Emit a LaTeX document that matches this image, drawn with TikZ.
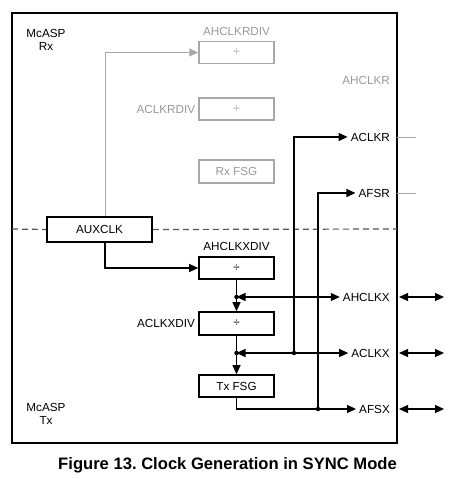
\documentclass[tikz,border=0pt]{standalone}
\usepackage{fontspec}
\setmainfont{Liberation Sans}
\usetikzlibrary{arrows.meta,calc,positioning}
\definecolor{gtext}{HTML}{9A9A9A}
\definecolor{gline}{HTML}{A8A8A8}
\definecolor{dashc}{HTML}{555555}
\frenchspacing
\begin{document}
\begin{tikzpicture}[x=1pt,y=-1pt,
  lbl/.style={font=\fontsize{11.7}{13}\selectfont, inner sep=0pt},
  glbl/.style={lbl, text=gtext},
  blackbox/.style={draw=black, line width=1.6pt, minimum width=75pt, minimum height=22pt, inner sep=0pt, font=\fontsize{11.7}{13}\selectfont},
  graybox/.style={draw=gline, line width=1.4pt, minimum width=75pt, minimum height=22pt, inner sep=0pt, text=gtext, font=\fontsize{11.7}{13}\selectfont},
  pin/.style={lbl, anchor=east, inner xsep=3pt},
  conn/.style={line width=1.1pt, draw=black},
  gconn/.style={line width=1pt, draw=gline},
  tip/.style={-{Triangle[length=9pt,width=8pt]}},
  bitip/.style={{Triangle[length=9pt,width=8pt]}-{Triangle[length=9pt,width=8pt]}},
  dot/.style={circle, fill=black, inner sep=0pt, minimum size=4.5pt}
]
\useasboundingbox (0,0) rectangle (465,479);
% frame
\draw[line width=1.8pt] (12,13) rectangle (397,443);
% texts
\node[lbl, align=center] (mrx) at (46,39.5) {McASP\\Rx};
\node[lbl, align=center] (mtx) at (46,414) {McASP\\Tx};
% AUXCLK
\node[blackbox, minimum width=105pt, minimum height=25pt] (aux) at (99.5,229.5) {AUXCLK};
\draw[dashc, line width=1.2pt, dash pattern=on 6pt off 4pt] (12,229) -- (aux.west);
\draw[dashc, line width=1.2pt, dash pattern=on 6pt off 4pt] (aux.east) -- (397,229);
% Rx boxes
\node[graybox] (ahr) at (236.5,52.5) {÷};
\node[glbl, above=5pt of ahr] (lahr) {AHCLKRDIV};
\node[graybox] (acr) at (236.5,109) {÷};
\node[glbl, left=3pt of acr] (lacr) {ACLKRDIV};
\node[graybox, minimum height=23pt] (rfsg) at (236.5,171.5) {Rx FSG};
% Tx boxes
\node[blackbox] (ahx) at (236.5,268) {÷};
\node[lbl, above=5pt of ahx] (lahx) {AHCLKXDIV};
\node[blackbox, minimum height=23pt] (acx) at (236.5,323.5) {÷};
\node[lbl, left=3pt of acx] (lacx) {ACLKXDIV};
\node[blackbox] (tfsg) at (236.5,386) {Tx FSG};
% pin labels
\node[glbl, anchor=east] (pahr) at (390,80) {AHCLKR};
\node[pin] (pacr) at (393,137) {ACLKR};
\node[pin] (pafr) at (393,193) {AFSR};
\node[pin] (pahx) at (393,297) {AHCLKX};
\node[pin] (pacx) at (393,353) {ACLKX};
\node[pin] (pafx) at (393,409) {AFSX};
% junctions
\coordinate (jah) at (236.5,297);
\coordinate (jac) at (236.5,353);
\coordinate (jclk) at (294,353);
\coordinate (jfs) at (318,409);
% AUXCLK connections
\draw[gconn, -{Triangle[length=9pt,width=8pt]}, gline] ([xshift=5.5pt]aux.north) |- (ahr.west);
\draw[conn, tip] ([xshift=5.5pt]aux.south) |- (ahx.west);
% Tx chain
\draw[conn, tip] (ahx.south) -- (acx.north);
\draw[conn, tip] (acx.south) -- (tfsg.north);
\draw[conn, tip] (tfsg.south) |- (pafx.west);
\draw[conn, bitip] (jah) -- (pahx.west);
\draw[conn, bitip] (jac) -- (pacx.west);
\node[dot] at (jah) {};
\node[dot] at (jac) {};
% Rx from Tx (sync)
\draw[conn, tip] (jclk) |- (pacr.west);
\draw[conn, tip] (jfs) |- (pafr.west);
\node[dot] at (jclk) {};
\node[dot] at (jfs) {};
% outside pins
\coordinate (oacr0) at (397,137); \coordinate (oacr1) at (416,137);
\coordinate (oafr0) at (397,193); \coordinate (oafr1) at (416,193);
\draw[gconn] (oacr0) -- (oacr1);
\draw[gconn] (oafr0) -- (oafr1);
\coordinate (oahx0) at (399,297); \coordinate (oahx1) at (444,297);
\coordinate (oacx0) at (399,353); \coordinate (oacx1) at (444,353);
\coordinate (oafx0) at (399,409); \coordinate (oafx1) at (444,409);
\draw[conn, bitip] (oahx0) -- (oahx1);
\draw[conn, bitip] (oacx0) -- (oacx1);
\draw[conn, bitip] (oafx0) -- (oafx1);
% caption
\node[font=\fontsize{16.6}{19}\bfseries\selectfont, inner sep=0pt] (cap) at (227.5,465) {Figure 13. Clock Generation in SYNC Mode};
\end{tikzpicture}
\end{document}
